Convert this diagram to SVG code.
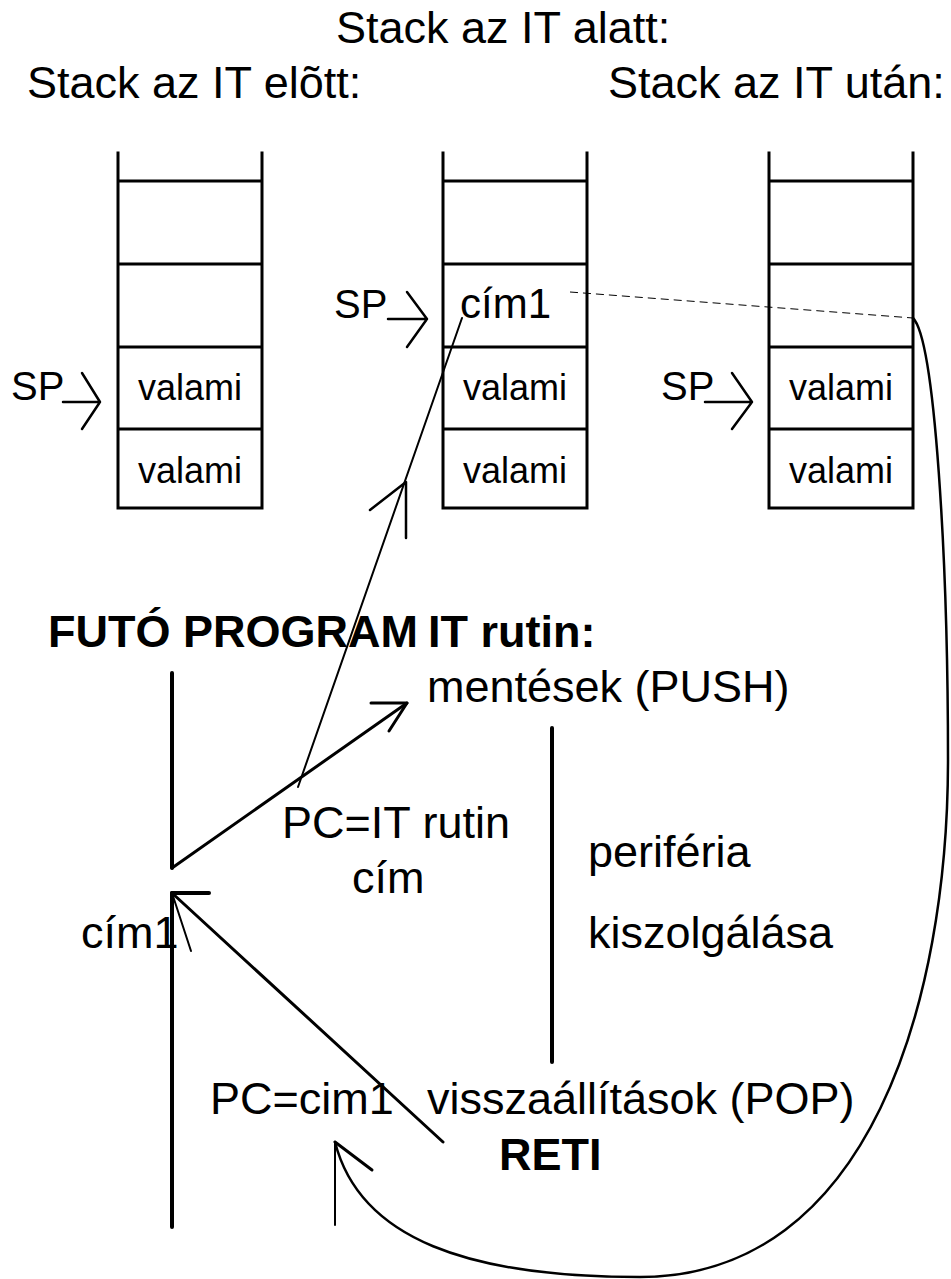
<svg xmlns="http://www.w3.org/2000/svg" width="951" height="1279" viewBox="0 0 951 1279">
  <style>
    .t { font-family: "Liberation Sans", Arial, sans-serif; fill: #000; }
    .big { font-size: 45px; }
    .cell { font-size: 36px; text-anchor: middle; }
    .sp { font-size: 40px; }
    .b { font-weight: bold; }
    .stk { stroke: #000; stroke-width: 3; fill: none; stroke-linecap: square; }
    .ln { stroke: #000; fill: none; stroke-linecap: round; stroke-linejoin: round; }
    .w2 { stroke-width: 2; }
    .w25 { stroke-width: 2.5; }
    .w3 { stroke-width: 3; }
    .w4 { stroke-width: 4; }
    .dash { stroke: #000; stroke-width: 1; stroke-dasharray: 8 5; fill: none; }
  </style>
  <defs>
    <!-- one stack: two open-top rails, five cell borders -->
    <g id="stackFrame">
      <path class="stk" d="M0,0 V355 M144,0 V355 M0,28 H144 M0,111 H144 M0,194 H144 M0,276 H144 M0,355 H144"/>
    </g>
  </defs>

  <g id="titles">
    <text class="t big" x="336" y="43">Stack az IT alatt:</text>
    <text class="t big" x="27" y="98">Stack az IT elõtt:</text>
    <text class="t big" x="608" y="98">Stack az IT után:</text>
  </g>

  <g id="stack-before">
    <use href="#stackFrame" x="118" y="153"/>
    <text class="t cell" x="190" y="400">valami</text>
    <text class="t cell" x="190" y="483">valami</text>
    <text class="t sp" x="11" y="400">SP</text>
    <path class="ln w25" d="M63,402 H100 M82,373 L100,402 L82,429"/>
  </g>

  <g id="stack-during">
    <use href="#stackFrame" x="443" y="153"/>
    <text class="t" style="font-size:42px" x="460" y="318">cím1</text>
    <text class="t cell" x="515" y="400">valami</text>
    <text class="t cell" x="515" y="483">valami</text>
    <text class="t sp" x="334" y="318">SP</text>
    <path class="ln w25" d="M388,319 H427 M407,292 L427,319 L407,347"/>
  </g>

  <g id="stack-after">
    <use href="#stackFrame" x="769" y="153"/>
    <text class="t cell" x="841" y="400">valami</text>
    <text class="t cell" x="841" y="483">valami</text>
    <text class="t sp" x="661" y="400">SP</text>
    <path class="ln w25" d="M705,402 H752 M732,373 L752,402 L732,429"/>
  </g>

  <g id="main-program">
    <text class="t big b" x="48" y="647">FUTÓ PROGRAM</text>
    <path class="ln w4" d="M172,673 V868"/>
    <path class="ln w4" d="M172,893 V1227"/>
    <text class="t big" x="81" y="948">cím1</text>
  </g>

  <g id="it-routine">
    <text class="t big b" x="428" y="647">IT rutin:</text>
    <text class="t big" x="427" y="702">mentések (PUSH)</text>
    <path class="ln w4" d="M552,728 V1062"/>
    <text class="t big" x="588" y="867">periféria</text>
    <text class="t big" x="588" y="948">kiszolgálása</text>
    <text class="t big" x="427" y="1114">visszaállítások (POP)</text>
    <text class="t big b" x="499" y="1170">RETI</text>
  </g>

  <g id="labels">
    <text class="t big" x="282" y="838">PC=IT rutin</text>
    <text class="t big" x="352" y="893">cím</text>
    <text class="t big" x="210" y="1114">PC=cim1</text>
  </g>

  <g id="connectors">
    <!-- jump into the interrupt routine -->
    <path class="ln w3" d="M172,868 L407,703"/>
    <path class="ln w3" d="M371,703 H407 L389,731"/>
    <!-- return address pushed onto the stack -->
    <path class="ln w2" d="M298,787 L462,318"/>
    <path class="ln w25" d="M370,510 L406,482 L406,538"/>
    <!-- return to the interrupted program -->
    <path class="ln w3" d="M443,1142 L172,893"/>
    <path class="ln w4" d="M172,893 H209"/>
    <path class="ln w2" d="M172,893 L191,951"/>
    <!-- stored address fetched back from the stack -->
    <path class="dash" d="M570,292 L913,318"/>
    <path class="ln w25" d="M913,318 C935,340 948,560 948,760 C948,1000 870,1277 640,1277 C470,1277 360,1240 335,1142"/>
    <path class="ln w2" d="M335,1142 V1225"/>
    <path class="ln w3" d="M335,1142 L372,1170"/>
  </g>
</svg>
